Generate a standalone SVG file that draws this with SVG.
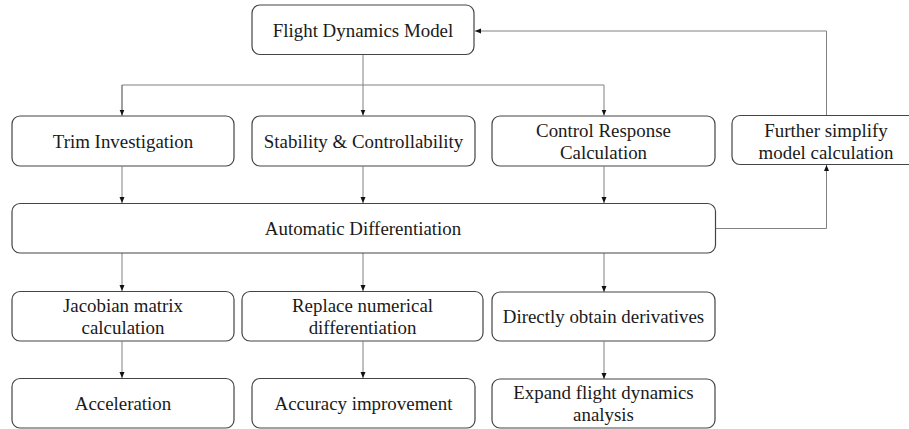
<svg xmlns="http://www.w3.org/2000/svg" width="909" height="429" viewBox="0 0 909 429">
<style>
.box{fill:#fff;stroke:#444;stroke-width:1.2}
.t{font-family:"Liberation Serif","Times New Roman",serif;font-size:18.9px;fill:#1a1a1a;text-anchor:middle}
.c{fill:none;stroke:#808080;stroke-width:1}
</style>
<defs>
<marker id="ah" viewBox="0 0 6 6" refX="6" refY="3" markerWidth="6" markerHeight="6" orient="auto" markerUnits="userSpaceOnUse">
<path d="M0,0.5 L6,3 L0,5.5 Z" fill="#111"/>
</marker>
</defs>
<rect width="909" height="429" fill="#fff"/>
<g id="connectors">
<path class="c" d="M363,54.5 V115.5" marker-end="url(#ah)"/>
<path class="c" d="M122,115.5 V85 H604 V115.5" marker-end="url(#ah)"/>
<path class="c" d="M122,85 V115.5" marker-end="url(#ah)"/>
<path class="c" d="M826.5,115.5 V31 H475" marker-end="url(#ah)"/>
<path class="c" d="M122,166.5 V203" marker-end="url(#ah)"/>
<path class="c" d="M363,166.5 V203" marker-end="url(#ah)"/>
<path class="c" d="M604,166.5 V203" marker-end="url(#ah)"/>
<path class="c" d="M715.5,228.5 H826.5 V165" marker-end="url(#ah)"/>
<path class="c" d="M122,253 V291" marker-end="url(#ah)"/>
<path class="c" d="M363,253 V291" marker-end="url(#ah)"/>
<path class="c" d="M604,253 V292" marker-end="url(#ah)"/>
<path class="c" d="M122,341.5 V378" marker-end="url(#ah)"/>
<path class="c" d="M363,341.5 V378" marker-end="url(#ah)"/>
<path class="c" d="M604,341.5 V379" marker-end="url(#ah)"/>
</g>
<g id="n_fdm"><rect class="box" x="252" y="5" width="222" height="49.5" rx="8"/><text class="t" x="363" y="37">Flight Dynamics Model</text></g>
<g id="n_trim"><rect class="box" x="12" y="116" width="222" height="50" rx="8"/><text class="t" x="123" y="147.5">Trim Investigation</text></g>
<g id="n_stab"><rect class="box" x="252" y="116" width="223" height="50" rx="8"/><text class="t" x="363.5" y="147.5">Stability &amp; Controllability</text></g>
<g id="n_ctrl"><rect class="box" x="492" y="116" width="223" height="50" rx="8"/><text class="t" x="603.5" y="137">Control Response</text><text class="t" x="603.5" y="159">Calculation</text></g>
<g id="n_further"><rect class="box" x="732" y="115.5" width="190" height="49" rx="8"/><text class="t" x="826" y="137">Further simplify</text><text class="t" x="826" y="159">model calculation</text></g>
<g id="n_ad"><rect class="box" x="12" y="203.5" width="703.5" height="49.5" rx="8"/><text class="t" x="363" y="235">Automatic Differentiation</text></g>
<g id="n_jac"><rect class="box" x="12" y="291.5" width="222" height="49.5" rx="8"/><text class="t" x="123" y="311.5">Jacobian matrix</text><text class="t" x="123" y="333.5">calculation</text></g>
<g id="n_repl"><rect class="box" x="242" y="291.5" width="241" height="49.5" rx="8"/><text class="t" x="362.5" y="311.5">Replace numerical</text><text class="t" x="362.5" y="333.5">differentiation</text></g>
<g id="n_dir"><rect class="box" x="492" y="292" width="223" height="49" rx="8"/><text class="t" x="603.5" y="323">Directly obtain derivatives</text></g>
<g id="n_acc"><rect class="box" x="12" y="378.5" width="222" height="49.5" rx="8"/><text class="t" x="123" y="410">Acceleration</text></g>
<g id="n_accu"><rect class="box" x="252" y="378.5" width="223" height="49.5" rx="8"/><text class="t" x="363.5" y="410">Accuracy improvement</text></g>
<g id="n_exp"><rect class="box" x="492" y="379" width="223" height="49" rx="8"/><text class="t" x="603.5" y="398.5">Expand flight dynamics</text><text class="t" x="603.5" y="421">analysis</text></g>
</svg>
